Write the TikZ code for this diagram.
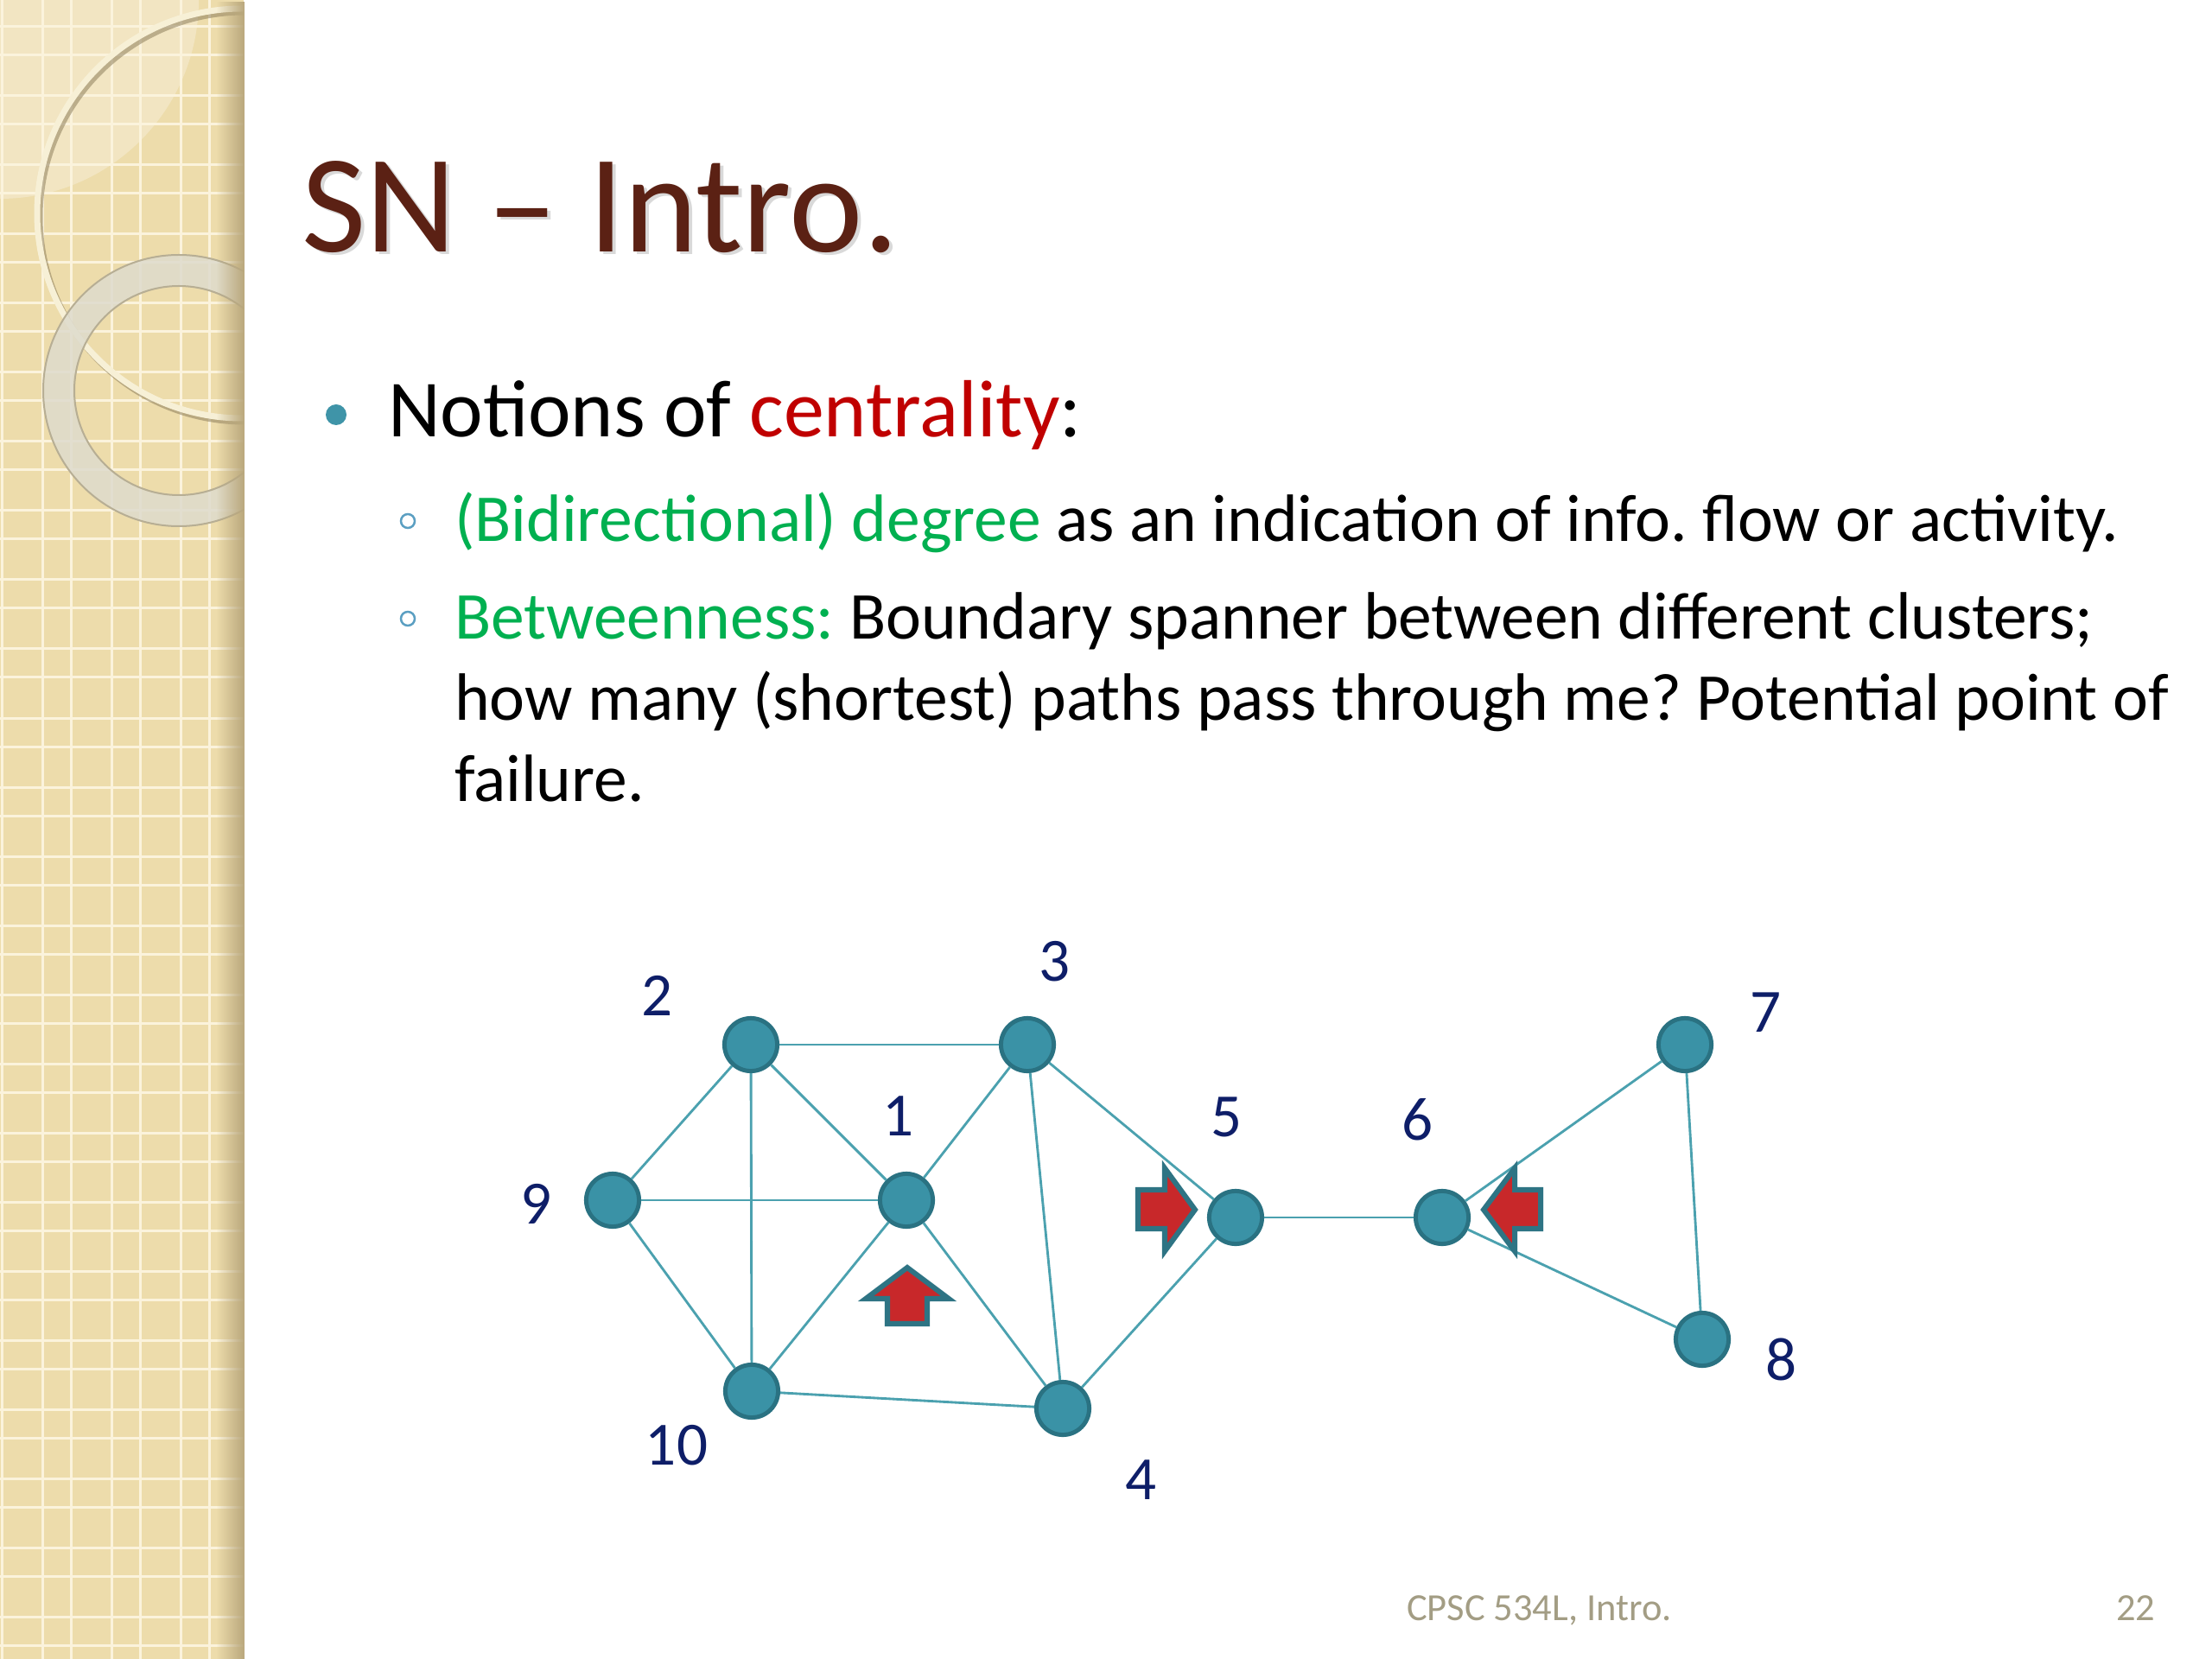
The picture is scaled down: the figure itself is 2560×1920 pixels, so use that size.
\documentclass[tikz,border=0pt]{standalone}
\usepackage{fontspec}
\setmainfont{Carlito}
\usetikzlibrary{fadings}
\frenchspacing
\tikzfading[name=fadetoright, left color=transparent!100, right color=transparent!0]
\definecolor{stripbg}{HTML}{EDDCAB}
\definecolor{gridln}{HTML}{FBF3DC}
\definecolor{stripshadow}{HTML}{B9A77C}
\definecolor{ringcream}{HTML}{F7F0D6}
\definecolor{ringshade}{HTML}{8E7F5C}
\definecolor{ringgray}{HTML}{DEDBCD}
\definecolor{ringedge}{HTML}{B7AE94}
\definecolor{titlecol}{HTML}{5B2114}
\definecolor{centred}{HTML}{C00000}
\definecolor{grn}{HTML}{00B050}
\definecolor{bulletcol}{HTML}{3F94A8}
\definecolor{subbullet}{HTML}{5B9FC2}
\definecolor{footcol}{HTML}{A39D84}
\definecolor{nodefill}{HTML}{3A92A6}
\definecolor{nodeborder}{HTML}{2A7282}
\definecolor{edgecol}{HTML}{4BA1AF}
\definecolor{labcol}{HTML}{0E1E68}
\definecolor{arrowred}{HTML}{C8282A}
\definecolor{arrowline}{HTML}{2E7484}
\newcommand\pxu{0.28125pt}
\begin{document}
\begin{tikzpicture}[x=0.28125pt, y=-0.28125pt,
  txt/.style={anchor=base west, inner sep=0pt, outer sep=0pt},
  subtxt/.style={txt, font=\fontsize{21.8}{26}\selectfont},
  vert/.style={circle, fill=nodefill, draw=nodeborder, line width=1.4pt, minimum size=17.2pt, inner sep=0pt},
  lab/.style={inner sep=0pt, text=labcol, font=\fontsize{20}{24}\selectfont},
  edge/.style={draw=edgecol, line width=0.8pt},
  blockarrow/.style={fill=arrowred, draw=arrowline, line width=1.7pt, line join=miter},
  gridline/.style={draw=gridln, line width=3*\pxu}
]
\useasboundingbox (0,0) rectangle (2560,1920);
\fill[white] (0,0) rectangle (2560,1920);

% ---- decorative strip ----
\fill[stripbg] (0,0) rectangle (282,1920);
\begin{scope}
  \clip (0,0) rectangle (282,1920);
  \fill[white, opacity=0.28] (0,0) circle (230);
  \foreach \k in {-1,0,1,2,3} {
    \draw[gridline] (49+80*\k,0) -- (49+80*\k,1920);
    \draw[gridline] (82+80*\k,0) -- (82+80*\k,1920);
  }
  \foreach \k in {0,...,23} {
    \draw[gridline] (0,31+80*\k) -- (282,31+80*\k);
    \draw[gridline] (0,64+80*\k) -- (282,64+80*\k);
  }
  % big thin ring
  \draw[ringshade, opacity=0.55, line width=7*\pxu] (283,251) circle (237);
  \draw[ringcream, line width=7*\pxu] (280,247) circle (237);
  % small thick ring
  \fill[ringgray, opacity=0.85, even odd rule] (207,452) circle (157) (207,452) circle (121);
  \draw[ringedge, line width=2*\pxu] (207,452) circle (157);
  \draw[ringedge, line width=2*\pxu] (207,452) circle (121);
\end{scope}
\fill[stripshadow, path fading=fadetoright] (250,0) rectangle (283,1920);

% ---- title ----
\node[txt, text=black, opacity=0.15, font=\fontsize{45.5}{55}\selectfont] (titleshadow) at (353,295) {SN – Intro.};
\node[txt, text=titlecol, font=\fontsize{45.5}{55}\selectfont] (title) at (349,292) {SN – Intro.};

% ---- bullets ----
\fill[bulletcol] (389,480) circle (12);
\node[txt, font=\fontsize{26.4}{32}\selectfont] (lvl1) at (449,506) {Notions of \textcolor{centred}{centrality}:};

\draw[subbullet, line width=2.5*\pxu] (472,603) circle (8);
\node[subtxt] (deg) at (526,627) {\textcolor{grn}{(Bidirectional) degree} as an indication of info. flow or activity.};

\draw[subbullet, line width=2.5*\pxu] (472,716) circle (8);
\node[subtxt] (btw1) at (526,740) {\textcolor{grn}{Betweenness:} Boundary spanner between different clusters;};
\node[subtxt] (btw2) at (526,833) {how many (shortest) paths pass through me? Potential point of};
\node[subtxt] (btw3) at (526,927) {failure.};

% ---- footer ----
\node[txt, text=footcol, font=\fontsize{12.5}{15}\selectfont] (foot) at (1628,1875) {CPSC 534L, Intro.};
\node[anchor=base east, inner sep=0pt, text=footcol, font=\fontsize{12.5}{15}\selectfont] (pagenum) at (2495,1875) {22};

% ---- graph ----
\node[vert] (n1) at (1049,1389) {};
\node[vert] (n2) at (869,1209) {};
\node[vert] (n3) at (1189,1209) {};
\node[vert] (n4) at (1230,1630) {};
\node[vert] (n5) at (1430,1409) {};
\node[vert] (n6) at (1669,1409) {};
\node[vert] (n7) at (1950,1209) {};
\node[vert] (n8) at (1970,1550) {};
\node[vert] (n9) at (709,1389) {};
\node[vert] (n10) at (870,1610) {};

\foreach \a/\b in {n2/n3, n2/n9, n2/n10, n2/n1, n9/n1, n9/n10, n10/n1, n10/n4, n1/n3, n1/n4, n3/n4, n3/n5, n4/n5, n5/n6, n6/n7, n6/n8, n7/n8}
  \draw[edge] (\a) -- (\b);

\node[lab] (l1) at (1040,1292) {1};
\node[lab] (l2) at (761,1152) {2};
\node[lab] (l3) at (1221,1113) {3};
\node[lab] (l4) at (1321,1713) {4};
\node[lab] (l5) at (1420,1293) {5};
\node[lab] (l6) at (1641,1296) {6};
\node[lab] (l7) at (2043,1172) {7};
\node[lab] (l8) at (2061,1573) {8};
\node[lab] (l9) at (621,1393) {9};
\node[lab] (l10) at (783,1673) {10};

% ---- red block arrows ----
\draw[blockarrow] (1050,1467) -- (1098,1503) -- (1073,1503) -- (1073,1532) -- (1027,1532) -- (1027,1503) -- (1002,1503) -- cycle;
\draw[blockarrow] (1383,1400) -- (1348,1448) -- (1348,1422) -- (1317,1422) -- (1317,1377) -- (1348,1377) -- (1348,1352) -- cycle;
\draw[blockarrow] (1717,1400) -- (1753,1352) -- (1753,1377) -- (1783,1377) -- (1783,1422) -- (1753,1422) -- (1753,1448) -- cycle;
\end{tikzpicture}
\end{document}
